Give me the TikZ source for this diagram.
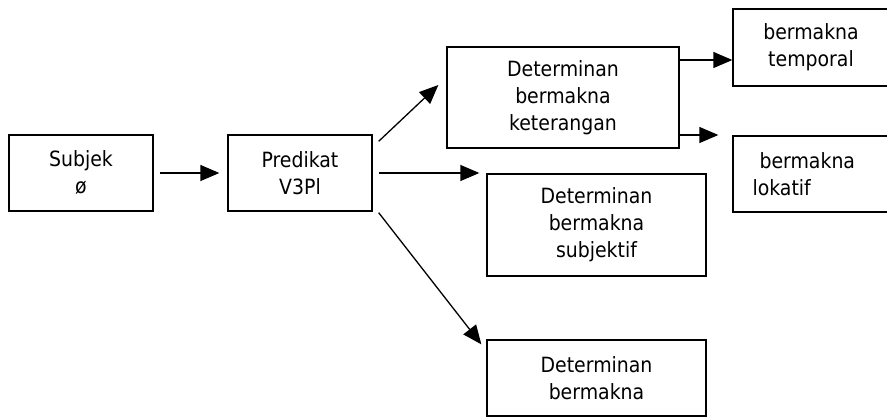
\documentclass[tikz,border=0pt]{standalone}
\usepackage{fontspec}
\setmainfont{DejaVu Sans Condensed}
\usetikzlibrary{arrows.meta}
\begin{document}
\begin{tikzpicture}[x=1pt,y=-1pt,
  box/.style={draw,line width=1.3pt,inner sep=0pt,align=center,
    font=\fontsize{21}{27}\selectfont},
  arr/.style={line width=1.3pt,-{Triangle[length=19pt,width=16pt]}}]
\useasboundingbox (0,0) rectangle (887,417);
\clip (0,0) rectangle (887,417);
\node[box,minimum width=144pt,minimum height=76pt] (subj) at (81,173) {Subjek\\ø};
\node[box,minimum width=144pt,minimum height=76pt] (pred) at (300,173) {Predikat\\V3Pl};
\node[box,minimum width=232pt,minimum height=101pt] (ket) at (563,97.5) {Determinan\\bermakna\\keterangan};
\node[box,minimum width=156pt,minimum height=77pt] (temp) at (811,47.5) {bermakna\\temporal};
\node[box,minimum width=156pt,minimum height=76pt] (lok) at (811,174) {};
\node[anchor=west,align=left,inner sep=0pt,font=\fontsize{21}{27}\selectfont] (loktext) at ([xshift=20pt]lok.west) {\hspace*{7pt}bermakna\\lokatif};
\node[box,minimum width=219pt,minimum height=102pt] (subjf) at (596.5,225) {Determinan\\bermakna\\subjektif};
\node[box,minimum width=219pt,minimum height=76pt] (bot) at (596.5,378) {Determinan\\bermakna};
\draw[arr] ([xshift=6pt]subj.east) -- ([xshift=-8pt]pred.west);
\draw[arr] ([shift={(6,7)}]pred.north east) -- ([shift={(-8,-12.5)}]ket.west);
\draw[arr] ([xshift=6pt]pred.east) -- ([xshift=-7pt]subjf.west |- pred.east);
\draw[arr] ([shift={(6,1)}]pred.south east) -- ([shift={(-5,5)}]bot.north west);
\draw[arr] ([shift={(0,-37.5)}]ket.east) -- ([shift={(0,12.5)}]temp.west);
\draw[arr] ([shift={(0,37.5)}]ket.east) -- ([shift={(-14,-39)}]lok.west);
\end{tikzpicture}
\end{document}
